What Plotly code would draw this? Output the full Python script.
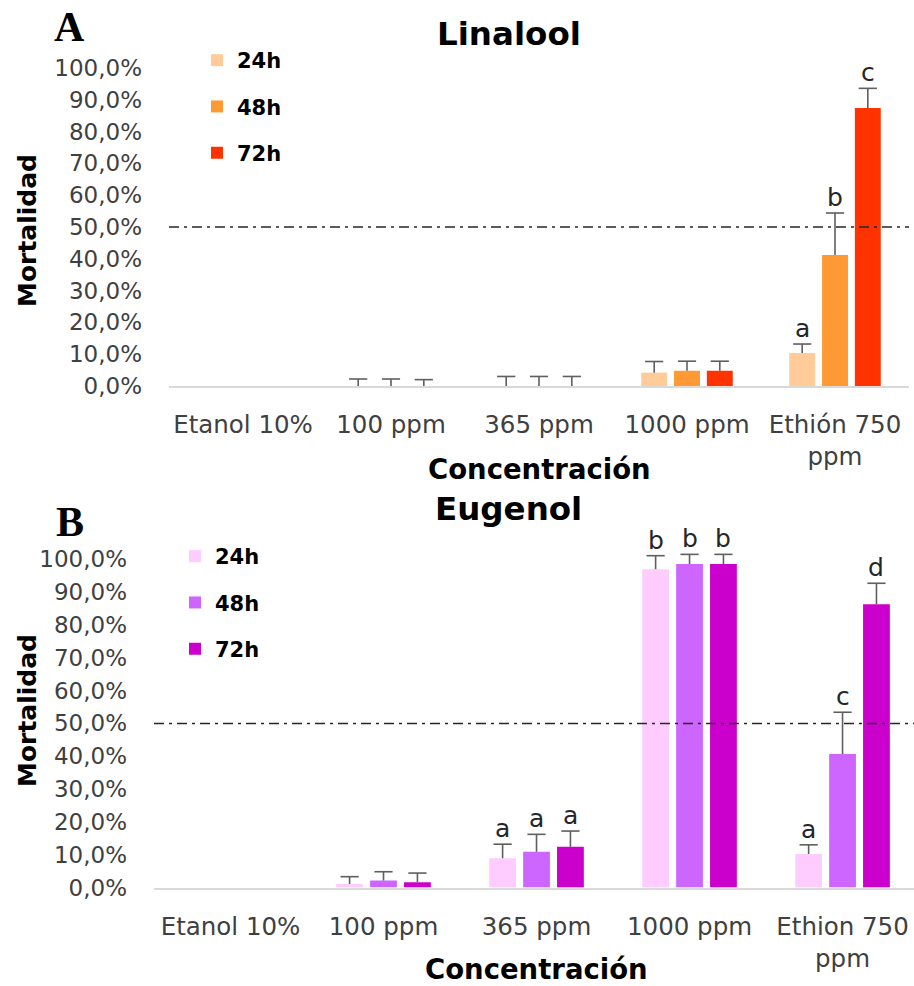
import plotly.graph_objects as go

# ---------------- data ----------------
categories_lin = ["Etanol 10%", "100 ppm", "365 ppm", "1000 ppm", "Ethión 750<br>ppm"]
categories_eug = ["Etanol 10%", "100 ppm", "365 ppm", "1000 ppm", "Ethion 750<br>ppm"]
series_names = ["24h", "48h", "72h"]

lin_24 = [0, 0, 0, 4.2, 10.4]
lin_48 = [0, 0, 0, 4.8, 41.2]
lin_72 = [0, 0, 0, 4.8, 87.4]
lin_24_err = [None, 2.2, 3.0, 3.5, 2.8]
lin_48_err = [None, 2.2, 3.0, 3.0, 13.2]
lin_72_err = [None, 2.0, 3.0, 3.0, 6.2]
lin_24_letters = ["", "", "", "", "a"]
lin_48_letters = ["", "", "", "", "b"]
lin_72_letters = ["", "", "", "", "c"]

eug_24 = [0, 1.1, 8.9, 97.0, 10.2]
eug_48 = [0, 2.1, 10.9, 98.6, 40.7]
eug_72 = [0, 1.6, 12.4, 98.6, 86.3]
eug_24_err = [None, 2.2, 4.3, 4.1, 2.8]
eug_48_err = [None, 2.7, 5.3, 2.9, 12.7]
eug_72_err = [None, 2.8, 4.8, 2.9, 6.4]
eug_24_letters = ["", "", "a", "b", "a"]
eug_48_letters = ["", "", "a", "b", "c"]
eug_72_letters = ["", "", "a", "b", "d"]

threshold = 50
y_ticks = [0, 10, 20, 30, 40, 50, 60, 70, 80, 90, 100]
y_tick_text = ["0,0%", "10,0%", "20,0%", "30,0%", "40,0%", "50,0%",
               "60,0%", "70,0%", "80,0%", "90,0%", "100,0%"]

colors_lin = ["#FFCC99", "#FF9933", "#FF3300"]
colors_eug = ["#FFCCFF", "#CC66FF", "#CC00CC"]

# ---------------- layout constants ----------------
W, H = 914, 986
BARGAP = 0.335
BARGROUPGAP = 0.21
TICK_FONT = dict(family="DejaVu Sans", size=23, color="#404040")
XTICK_FONT = dict(family="DejaVu Sans", size=24.5, color="#404040")
ERR_COLOR = "#5f5f5f"
Y_MAX = 104  # a little headroom above 100 % so letters over full bars stay visible


def px_x(p):
    return p / W


def px_y(p):
    return 1 - p / H


def y_top_px(zero_px, hundred_px):
    # pixel of Y_MAX given pixels of 0 % and 100 %
    return zero_px - (zero_px - hundred_px) * Y_MAX / 100


fig = go.Figure()

panels = [
    dict(cats=categories_lin, vals=[lin_24, lin_48, lin_72], errs=[lin_24_err, lin_48_err, lin_72_err],
         letters=[lin_24_letters, lin_48_letters, lin_72_letters], colors=colors_lin,
         xa="x", ya="y", legend="legend"),
    dict(cats=categories_eug, vals=[eug_24, eug_48, eug_72], errs=[eug_24_err, eug_48_err, eug_72_err],
         letters=[eug_24_letters, eug_48_letters, eug_72_letters], colors=colors_eug,
         xa="x2", ya="y2", legend="legend2"),
]

# bars
for pi, p in enumerate(panels):
    for si in range(3):
        fig.add_trace(go.Bar(
            x=p["cats"], y=p["vals"][si], name=series_names[si],
            marker=dict(color=p["colors"][si], line=dict(width=0)),
            xaxis=p["xa"], yaxis=p["ya"], legend=p["legend"],
            legendgroup=f"p{pi}s{si}",
        ))

# upper error bars (stem + cap), grouped like the bars
for pi, p in enumerate(panels):
    for si in range(3):
        vals, errs = p["vals"][si], p["errs"][si]
        tops = [v + e if e is not None else None for v, e in zip(vals, errs)]
        fig.add_trace(go.Scatter(
            x=p["cats"], y=tops, mode="markers",
            marker=dict(symbol="line-ew", size=13, color=ERR_COLOR,
                        line=dict(color=ERR_COLOR, width=1.6)),
            error_y=dict(type="data", symmetric=False, array=[0] * 5,
                         arrayminus=[e if e is not None else 0 for e in errs],
                         color=ERR_COLOR, thickness=1.6, width=0),
            xaxis=p["xa"], yaxis=p["ya"], showlegend=False, hoverinfo="skip",
            cliponaxis=False,
        ))

# significance letters above the error bars
annotations = []
slot = (1 - BARGAP) / 3
for p in panels:
    for si in range(3):
        for ci, lab in enumerate(p["letters"][si]):
            if lab:
                top = p["vals"][si][ci] + (p["errs"][si][ci] or 0)
                annotations.append(dict(
                    x=ci + (si - 1) * slot, y=top, xref=p["xa"], yref=p["ya"],
                    text=lab, showarrow=False, xanchor="center", yanchor="bottom", yshift=-1,
                    font=dict(family="DejaVu Sans", size=25, color="#262626")))

# titles and labels
TITLE_FONT = dict(family="DejaVu Sans", size=32.5, color="black", weight="bold")
AXT_FONT = dict(family="DejaVu Sans", size=27.5, color="black", weight="bold")
YT_FONT = dict(family="DejaVu Sans", size=25, color="black", weight="bold")
LETTER_FONT = dict(family="Liberation Serif", size=42, color="black", weight="bold")


def paper_text(text, xp, yp, font, angle=0):
    return dict(text=text, x=px_x(xp), y=px_y(yp), xref="paper", yref="paper",
                xanchor="center", yanchor="middle", showarrow=False,
                textangle=angle, font=font)


annotations += [
    paper_text("Linalool", 509, 34, TITLE_FONT),
    paper_text("Eugenol", 508, 509, TITLE_FONT),
    paper_text("Concentración", 539, 469, AXT_FONT),
    paper_text("Concentración", 536, 969, AXT_FONT),
    paper_text("Mortalidad", 27, 231, YT_FONT, -90),
    paper_text("Mortalidad", 27, 711, YT_FONT, -90),
    paper_text("A", 69, 27, LETTER_FONT),
    paper_text("B", 70, 522, LETTER_FONT),
]

shapes = []
for xa, ya in [("x", "y"), ("x2", "y2")]:
    shapes.append(dict(type="line", xref=f"{xa} domain", yref=ya, x0=0, x1=1,
                       y0=threshold, y1=threshold, layer="above",
                       line=dict(color="#262626", width=1.5, dash="10px,5px,3px,5px")))

xaxis_common = dict(type="category", showgrid=False, zeroline=False, showline=True,
                    linecolor="#D9D9D9", linewidth=1.5, ticks="", tickfont=XTICK_FONT,
                    ticklabelstandoff=16, fixedrange=True, automargin=False)
yaxis_common = dict(range=[0, Y_MAX], showgrid=False, zeroline=False, showline=False,
                    tickvals=y_ticks, ticktext=y_tick_text, tickfont=TICK_FONT,
                    ticks="", ticklabelstandoff=26, fixedrange=True, automargin=False)

LEG_FONT = dict(family="DejaVu Sans", size=21, color="black", weight="bold")
fig.update_layout(
    width=W, height=H, autosize=False,
    margin=dict(l=0, r=0, t=0, b=0, autoexpand=False),
    paper_bgcolor="white", plot_bgcolor="white",
    barmode="group", bargap=BARGAP, bargroupgap=BARGROUPGAP,
    scattermode="group", scattergap=BARGAP,
    xaxis=dict(domain=[px_x(169), px_x(909)], anchor="y", range=[-0.5, 4.5], **xaxis_common),
    yaxis=dict(domain=[px_y(386), px_y(y_top_px(386, 68))], anchor="x", **yaxis_common),
    xaxis2=dict(domain=[px_x(154), 1.0], anchor="y2", range=[-0.5, 4.467], **xaxis_common),
    yaxis2=dict(domain=[px_y(887.5), px_y(y_top_px(887.5, 559.3))], anchor="x2", **yaxis_common),
    legend=dict(x=px_x(197), y=px_y(40), xanchor="left", yanchor="top",
                font=LEG_FONT, tracegroupgap=16, bgcolor="rgba(0,0,0,0)"),
    legend2=dict(x=px_x(175), y=px_y(536), xanchor="left", yanchor="top",
                 font=LEG_FONT, tracegroupgap=16, bgcolor="rgba(0,0,0,0)"),
    annotations=annotations,
    shapes=shapes,
    showlegend=True,
)

fig.write_html("out.html", config={"displayModeBar": False},
               post_script="document.body.style.margin='0';document.body.style.overflow='hidden';")
